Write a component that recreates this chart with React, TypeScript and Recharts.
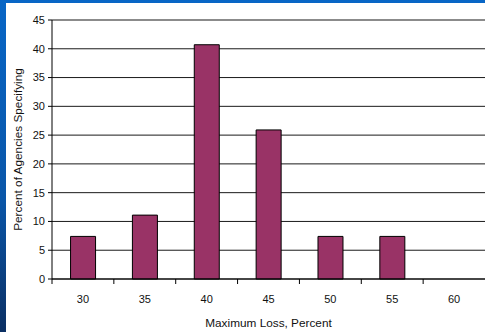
import React from 'react'
import { BarChart, Bar, XAxis, YAxis, CartesianGrid, ReferenceLine } from 'recharts'

// share of agencies naming each maximum loss level
const lossLevels = ['30', '35', '40', '45', '50', '55', '60']
const agencyShare = [7.4, 11.1, 40.7, 25.9, 7.4, 7.4, 0]
const yTicks = [0, 5, 10, 15, 20, 25, 30, 35, 40, 45]

const data = lossLevels.map((level, i) => ({ level, share: agencyShare[i] }))

const FONT = '"Liberation Sans", Arial, sans-serif'

// label centred in the band, tick mark on the band's left edge
const BoundaryTick = (props: any) => {
  const { x, y, payload } = props
  const half = payload.offset || 0
  return (
    <g>
      <line x1={x - half} y1={y} x2={x - half} y2={y + 5} stroke="#000" />
      <text x={x} y={y + 24} textAnchor="middle" fontSize={11} fontFamily={FONT} fill="#111">
        {payload.value}
      </text>
    </g>
  )
}

export default function App() {
  return (
    <div style={{
      position: 'absolute',
      left: 0,
      top: 0,
      width: 485,
      height: 332,
      background: 'linear-gradient(to bottom, #0866c6 0%, #0a56a8 60%, #0b2f63 100%)',
    }}>
      <div style={{ position: 'absolute', left: 6, top: 3, width: 479, height: 329, background: '#fff' }}>
        <BarChart
          width={479}
          height={329}
          data={data}
          margin={{ top: 17, right: 0, bottom: 0, left: 0 }}
          barCategoryGap="30%"
        >
          <CartesianGrid vertical={false} stroke="#000" strokeOpacity={0.9} />
          <ReferenceLine y={45} stroke="#8a8a8a" />
          <XAxis
            dataKey="level"
            height={53}
            tickLine={false}
            tickSize={0}
            tickMargin={0}
            axisLine={{ stroke: '#000' }}
            tick={<BoundaryTick />}
            interval={0}
            label={{
              value: 'Maximum Loss, Percent',
              position: 'insideBottom',
              offset: 5,
              style: { fontSize: 11.8, fontFamily: FONT, fill: '#111' },
            }}
          />
          <YAxis
            width={46}
            domain={[0, 45]}
            ticks={yTicks}
            interval={0}
            tickSize={4}
            tickMargin={3}
            axisLine={{ stroke: '#000' }}
            tickLine={{ stroke: '#000' }}
            tick={{ fontSize: 11, fontFamily: FONT, fill: '#111' }}
            label={{
              value: 'Percent of Agencies Specifying',
              angle: -90,
              position: 'insideLeft',
              offset: 12,
              style: { fontSize: 11.8, fontFamily: FONT, fill: '#111', textAnchor: 'middle' },
            }}
          />
          <Bar dataKey="share" fill="#993366" stroke="#000" strokeWidth={1} isAnimationActive={false} />
        </BarChart>
      </div>
    </div>
  )
}
